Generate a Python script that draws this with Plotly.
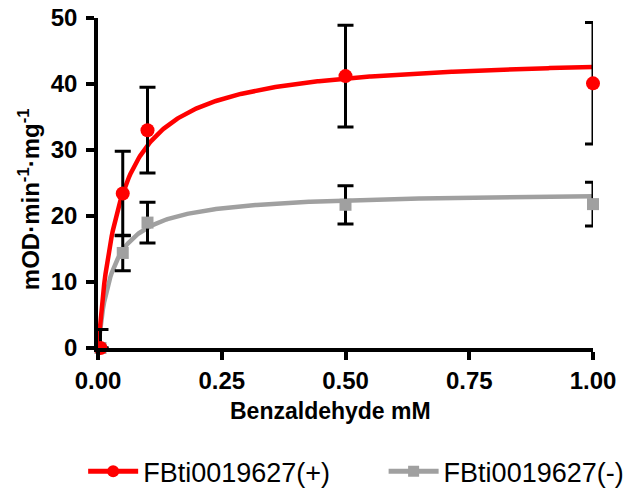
import numpy as np
import plotly.graph_objects as go

# Benzaldehyde concentration (mM) and specific activity (mOD/min/mg), mean and SD
conc = [0.005, 0.05, 0.1, 0.5, 1.0]

plus_mean = [0.0, 23.4, 33.0, 41.2, 40.1]
plus_err_up = [2.8, 6.4, 6.5, 7.7, 9.2]
plus_err_down = [0.0, 6.4, 6.5, 7.7, 9.2]

minus_mean = [0.0, 14.4, 19.0, 21.7, 21.8]
minus_err = [0.0, 2.7, 3.1, 2.9, 3.3]

# Michaelis-Menten fit parameters (Vmax, Km)
plus_fit = (44.5, 0.045)
minus_fit = (23.7, 0.03)

x_ticks = [0, 0.25, 0.5, 0.75, 1.0]
y_ticks = [0, 10, 20, 30, 40, 50]

RED = "#ff0000"
GRAY = "#a0a0a0"
FONT = "Liberation Sans, Arial, sans-serif"

xs = np.linspace(0, 1, 400)


def mm(x, vmax, km):
    return vmax * x / (km + x)


fig = go.Figure()

# fitted curves (gray under red)
fig.add_trace(go.Scatter(x=xs, y=mm(xs, *minus_fit), mode="lines",
                         line=dict(color=GRAY, width=4.5), showlegend=False,
                         hoverinfo="skip"))
fig.add_trace(go.Scatter(x=conc, y=minus_mean, mode="markers",
                         marker=dict(symbol="square", size=12, color=GRAY),
                         error_y=dict(type="data", array=minus_err, color="black",
                                      thickness=3, width=8),
                         showlegend=False, cliponaxis=False))
fig.add_trace(go.Scatter(x=xs, y=mm(xs, *plus_fit), mode="lines",
                         line=dict(color=RED, width=4.5), showlegend=False,
                         hoverinfo="skip"))
fig.add_trace(go.Scatter(x=conc, y=plus_mean, mode="markers",
                         marker=dict(symbol="circle", size=14, color=RED),
                         error_y=dict(type="data", symmetric=False,
                                      array=plus_err_up, arrayminus=plus_err_down,
                                      color="black", thickness=3, width=8),
                         showlegend=False, cliponaxis=False))

# legend entries
fig.add_trace(go.Scatter(x=[None], y=[None], mode="lines+markers",
                         name="FBti0019627(+)", legend="legend",
                         line=dict(color=RED, width=5),
                         marker=dict(symbol="circle", size=12, color=RED)))
fig.add_trace(go.Scatter(x=[None], y=[None], mode="lines+markers",
                         name="FBti0019627(-)", legend="legend2",
                         line=dict(color=GRAY, width=5),
                         marker=dict(symbol="square", size=11, color=GRAY)))

axis_common = dict(
    showline=True, linecolor="black", linewidth=3.5,
    ticks="outside", ticklen=8, tickwidth=3.5, tickcolor="black",
    showgrid=False, zeroline=False,
    tickfont=dict(family=FONT, size=24, color="black", weight="bold"),
)

fig.update_xaxes(range=[0, 1], tickvals=x_ticks, tickformat=".2f", **axis_common)
fig.update_yaxes(range=[0, 50], tickvals=y_ticks, ticklabelstandoff=4, **axis_common)

legend_common = dict(orientation="h", yanchor="middle", y=-0.375, xanchor="left",
                     bgcolor="rgba(0,0,0,0)", itemwidth=50,
                     font=dict(family=FONT, size=27, color="black"))

fig.update_layout(
    width=630, height=490,
    margin=dict(l=98, r=37, t=18, b=142, autoexpand=False),
    paper_bgcolor="white", plot_bgcolor="white",
    font=dict(family=FONT, color="black"),
    legend=dict(x=-0.03, **legend_common),
    legend2=dict(x=0.577, **legend_common),
    annotations=[
        dict(text="<b>Benzaldehyde mM</b>", xref="paper", yref="paper",
             x=0.469, y=-0.19, xanchor="center", yanchor="middle", showarrow=False,
             font=dict(family=FONT, size=23, color="black")),
        dict(text="<b>mOD·min<sup>-1</sup>·mg<sup>-1</sup></b>", xref="paper", yref="paper",
             x=-0.14, y=0.45, xanchor="center", yanchor="middle", showarrow=False,
             textangle=-90, font=dict(family=FONT, size=24, color="black")),
    ],
)

fig.write_html("out.html")
